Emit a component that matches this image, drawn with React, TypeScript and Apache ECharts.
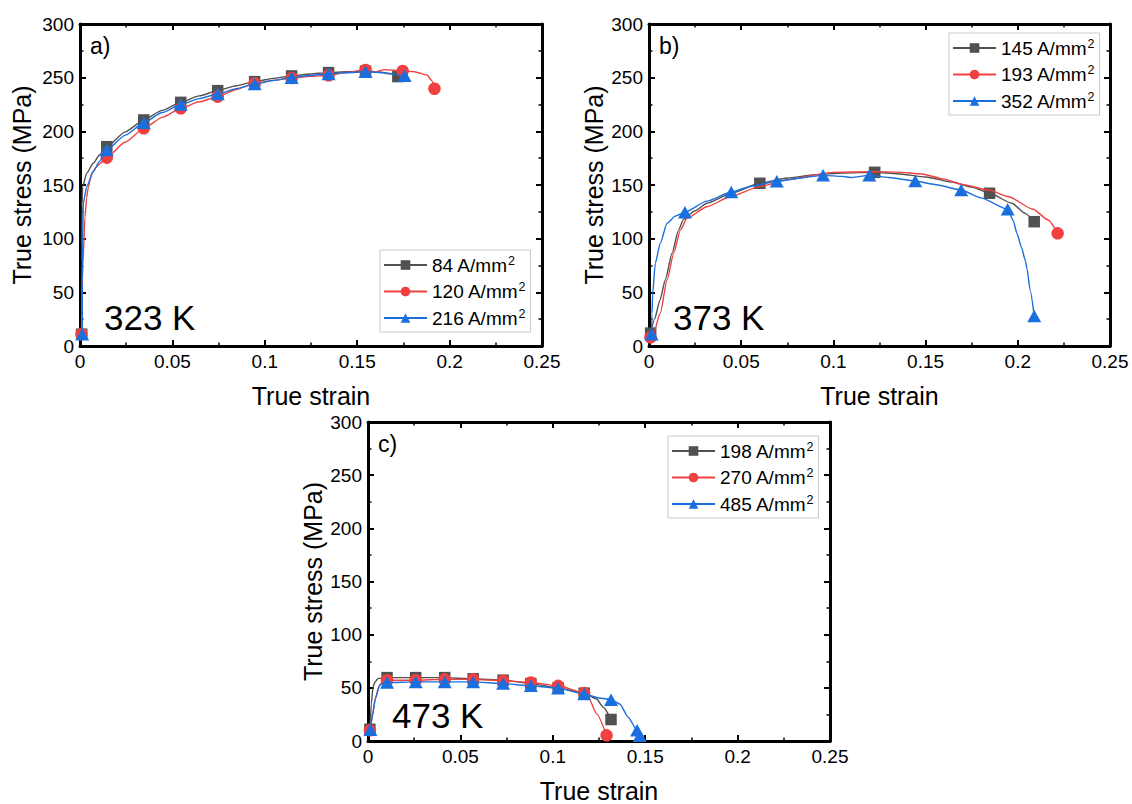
import React, { useEffect, useRef } from 'react';
import * as echarts from 'echarts';

const FONT = '"Liberation Sans", Arial, Helvetica, sans-serif';

// ---- axis ticks ----
const STRAIN_MIN = 0;
const STRAIN_MAX = 0.25;
const STRAIN_STEP = 0.05;
const STRESS_MIN = 0;
const STRESS_MAX = 300;
const STRESS_STEP = 50;

// ---- data: [true strain, true stress (MPa), marker flag] ----
// a) 323 K
const a84: number[][] = [
  [0.0009, 11, 1], [0.001, 80], [0.0011, 130], [0.0014, 148], [0.0036, 161], [0.0072, 170.2], [0.0105, 178],
  [0.0145, 185.7, 1], [0.0245, 199.5], [0.0345, 210.6, 1], [0.0445, 219.5], [0.0545, 227, 1], [0.0645, 233],
  [0.0745, 237.9, 1], [0.0845, 242.5], [0.0945, 246.3, 1], [0.1045, 249.3], [0.1145, 251.6, 1], [0.1245, 253.4],
  [0.1345, 254.7, 1], [0.1445, 255.5], [0.1545, 256, 1], [0.162, 255.3], [0.168, 253.5], [0.172, 251, 1],
];
const a120: number[][] = [
  [0.0008, 11, 1], [0.0009, 33], [0.0015, 75], [0.0027, 120], [0.0036, 138], [0.0045, 148], [0.0063, 161],
  [0.0085, 166], [0.0108, 170], [0.0145, 175.5, 1], [0.0245, 190], [0.0345, 202.8, 1], [0.0445, 213],
  [0.0545, 221.4, 1], [0.0645, 227.5], [0.0745, 232.3, 1], [0.0845, 239], [0.0945, 244.7, 1], [0.1045, 247.5],
  [0.1145, 249.7, 1], [0.1245, 251.2], [0.1345, 252.2, 1], [0.1445, 255], [0.1545, 257.2, 1], [0.16, 255.5],
  [0.165, 257.5], [0.1746, 256.2, 1], [0.181, 255.5], [0.1878, 252.5], [0.1905, 247], [0.1918, 239.7, 1],
];
const a216: number[][] = [
  [0.0012, 11, 1], [0.0013, 60], [0.0014, 96], [0.0018, 133], [0.0036, 148.4], [0.0072, 162.4], [0.0105, 172],
  [0.0145, 182.6, 1], [0.0245, 196.5], [0.0345, 208, 1], [0.0445, 217.5], [0.0545, 225, 1], [0.0645, 230.5],
  [0.0745, 234.8, 1], [0.0845, 239.8], [0.0945, 244, 1], [0.1045, 247.3], [0.1145, 250, 1], [0.1245, 252],
  [0.1345, 253.4, 1], [0.1445, 254.6], [0.1545, 255.5, 1], [0.165, 254.5], [0.1757, 251.8, 1],
];
// b) 373 K
const b145: number[][] = [
  [0.0009, 12, 1], [0.003, 25], [0.006, 43], [0.0088, 61.5], [0.0125, 86.4], [0.016, 108], [0.0187, 118],
  [0.025, 126], [0.0314, 133], [0.045, 142.5], [0.0601, 151.6, 1], [0.075, 156.5], [0.09, 159.5], [0.105, 161.2],
  [0.1224, 161.8, 1], [0.135, 160.5], [0.15, 157.5], [0.165, 152.5], [0.175, 148], [0.1847, 142.3, 1],
  [0.1968, 133], [0.204, 123.6], [0.2089, 115.8, 1],
];
const b193: number[][] = [
  [0.0008, 8, 1], [0.0025, 12], [0.0061, 30.5], [0.0098, 61.5], [0.0134, 86.4], [0.017, 108], [0.0206, 119],
  [0.0314, 129.8], [0.044, 139], [0.06, 148.5], [0.075, 155], [0.0993, 161.8], [0.1228, 162.4], [0.135, 162],
  [0.148, 160.3], [0.16, 155.5], [0.1697, 150.6], [0.1842, 145.3], [0.195, 139.1], [0.2083, 127.4],
  [0.2165, 117.4], [0.2216, 105, 1],
];
const b352: number[][] = [
  [0.0014, 10.9, 1], [0.0016, 30], [0.002, 49], [0.0034, 77], [0.0061, 95.7], [0.0098, 114.3], [0.0142, 121],
  [0.0195, 124.6, 1], [0.0314, 135], [0.0446, 143.5, 1], [0.056, 149], [0.0693, 153.4, 1], [0.082, 156.5],
  [0.0944, 159, 1], [0.105, 158], [0.11, 157], [0.1195, 159, 1], [0.13, 157], [0.1444, 153.7, 1], [0.155, 150.5],
  [0.1693, 145.3, 1], [0.18, 138], [0.1945, 127.4, 1], [0.1975, 117], [0.1995, 105], [0.202, 92], [0.204, 80],
  [0.205, 72], [0.2067, 52], [0.2089, 28, 1],
];
// c) 473 K
const c198: number[][] = [
  [0.001, 11, 1], [0.0018, 35], [0.0027, 51], [0.004, 56], [0.0054, 58.7], [0.0103, 59.6, 1], [0.0258, 59.6, 1],
  [0.0415, 59.6, 1], [0.0569, 58.5, 1], [0.0731, 57.2, 1], [0.0881, 54, 1], [0.1029, 50, 1], [0.117, 45, 1],
  [0.1237, 39.5], [0.1273, 31.7], [0.1315, 20.2, 1],
];
const c270: number[][] = [
  [0.001, 10, 1], [0.002, 20], [0.004, 40], [0.006, 52], [0.008, 56], [0.0103, 57.2, 1], [0.0258, 57.2, 1],
  [0.0415, 58, 1], [0.0569, 58, 1], [0.0731, 56.6, 1], [0.0881, 55, 1], [0.1029, 51.9, 1], [0.117, 45.1, 1],
  [0.119, 42], [0.1237, 25.5], [0.1291, 5.3, 1],
];
const c485: number[][] = [
  [0.0013, 10.6, 1], [0.0025, 25], [0.004, 40], [0.0063, 52.5], [0.008, 54], [0.0103, 55, 1], [0.0258, 55.6, 1],
  [0.0415, 55.6, 1], [0.0569, 55.6, 1], [0.0731, 54, 1], [0.0881, 51.9, 1], [0.1029, 49.7, 1], [0.117, 44.2, 1],
  [0.125, 40.5], [0.1315, 38.9, 1], [0.1363, 34.8], [0.1408, 22.4], [0.1456, 10, 1], [0.147, 5, 1],
];

const namesA = ['84 A/mm²', '120 A/mm²', '216 A/mm²'];
const namesB = ['145 A/mm²', '193 A/mm²', '352 A/mm²'];
const namesC = ['198 A/mm²', '270 A/mm²', '485 A/mm²'];
const tags = ['a)', 'b)', 'c)'];
const temps = ['323 K', '373 K', '473 K'];

const X_NAME = 'True strain';
const Y_NAME = 'True stress (MPa)';

const COLORS = ['#515151', '#F14040', '#1A6FDF'];
const SYMBOLS = ['rect', 'circle', 'triangle'];
const SYMBOL_SIZES: any[] = [11.5, 12.5, [14, 12.5]];

const PANELS = [
  { grid: { left: 80, top: 24, width: 462, height: 322 }, names: namesA, curves: [a84, a120, a216],
    legend: { left: 380, top: 250 }, yGap: 46 },
  { grid: { left: 649, top: 24, width: 461, height: 322 }, names: namesB, curves: [b145, b193, b352],
    legend: { left: 949, top: 33 }, yGap: 43 },
  { grid: { left: 368, top: 422, width: 462, height: 322 }, names: namesC, curves: [c198, c270, c485],
    legend: { left: 668, top: 436 }, yGap: 43 },
];

function axisBase(min: number, max: number, interval: number) {
  return {
    type: 'value', min, max, interval,
    axisLine: { show: true, onZero: false, lineStyle: { color: '#000', width: 3 } },
    axisTick: { show: true, inside: true, length: 6, lineStyle: { color: '#000', width: 2 } },
    minorTick: { show: true, splitNumber: 2, length: 3.5, lineStyle: { color: '#000', width: 1.5 } },
    splitLine: { show: false },
    minorSplitLine: { show: false },
  };
}

export default function App() {
  const ref = useRef<HTMLDivElement>(null);
  useEffect(() => {
    if (!ref.current) return;
    const chart = echarts.init(ref.current, null, { renderer: 'svg' });
    const grid: any[] = [];
    const xAxis: any[] = [];
    const yAxis: any[] = [];
    const series: any[] = [];
    const legend: any[] = [];
    const graphic: any[] = [];
    PANELS.forEach((p, i) => {
      grid.push({ ...p.grid, containLabel: false });
      const labelStyle = { show: true, color: '#000', fontSize: 19, fontFamily: FONT, margin: 6 };
      xAxis.push({
        ...axisBase(STRAIN_MIN, STRAIN_MAX, STRAIN_STEP), gridIndex: i, position: 'bottom',
        axisLabel: labelStyle,
        name: X_NAME, nameLocation: 'middle', nameGap: 37,
        nameTextStyle: { color: '#000', fontSize: 25, fontFamily: FONT },
      });
      xAxis.push({
        ...axisBase(STRAIN_MIN, STRAIN_MAX, STRAIN_STEP), gridIndex: i, position: 'top',
        axisLabel: { show: false },
      });
      yAxis.push({
        ...axisBase(STRESS_MIN, STRESS_MAX, STRESS_STEP), gridIndex: i, position: 'left',
        axisLabel: labelStyle,
        name: Y_NAME, nameLocation: 'middle', nameGap: p.yGap, nameRotate: 90,
        nameTextStyle: { color: '#000', fontSize: 25, fontFamily: FONT },
      });
      yAxis.push({
        ...axisBase(STRESS_MIN, STRESS_MAX, STRESS_STEP), gridIndex: i, position: 'right',
        axisLabel: { show: false },
      });
      p.curves.forEach((pts, k) => {
        series.push({
          type: 'line',
          name: p.names[k],
          xAxisIndex: 2 * i,
          yAxisIndex: 2 * i,
          symbol: SYMBOLS[k],
          symbolSize: SYMBOL_SIZES[k],
          showSymbol: true,
          smooth: 0.2,
          smoothMonotone: 'x',
          lineStyle: { color: COLORS[k], width: 1.4 },
          itemStyle: { color: COLORS[k] },
          z: 2 + k,
          data: pts.map((q) => ({ value: [q[0], q[1]], symbol: q[2] ? SYMBOLS[k] : 'none' })),
        });
      });
      legend.push({
        data: p.names,
        orient: 'vertical',
        left: p.legend.left,
        top: p.legend.top,
        itemWidth: 43,
        itemHeight: 12,
        itemGap: 4.5,
        padding: [4, 5, 3, 3],
        borderColor: '#c8c8c8',
        borderWidth: 1,
        borderRadius: 0,
        backgroundColor: '#fff',
        selectedMode: false,
        formatter: (name: string) => name.replace('²', '{sup|2}'),
        textStyle: {
          color: '#000', fontSize: 19, fontFamily: FONT, lineHeight: 22,
          rich: { sup: { fontSize: 12.5, fontFamily: FONT, color: '#000', verticalAlign: 'top', lineHeight: 14 } },
        },
      });
      graphic.push({
        type: 'text', x: p.grid.left + 10, y: p.grid.top + 21.5, z: 10,
        style: { text: tags[i], fontSize: 23, fontFamily: FONT, fill: '#000', align: 'left', verticalAlign: 'middle' },
      });
      graphic.push({
        type: 'text', x: p.grid.left + 24, y: p.grid.top + p.grid.height - 28.5, z: 10,
        style: { text: temps[i], fontSize: 35, fontFamily: FONT, fill: '#000', align: 'left', verticalAlign: 'middle' },
      });
    });
    chart.setOption({
      animation: false,
      backgroundColor: '#fff',
      grid, xAxis, yAxis, series, legend, graphic,
    });
    return () => chart.dispose();
  }, []);
  return (
    <div
      ref={ref}
      style={{ position: 'absolute', left: 0, top: 0, width: 1132, height: 804, background: '#fff' }}
    />
  );
}
